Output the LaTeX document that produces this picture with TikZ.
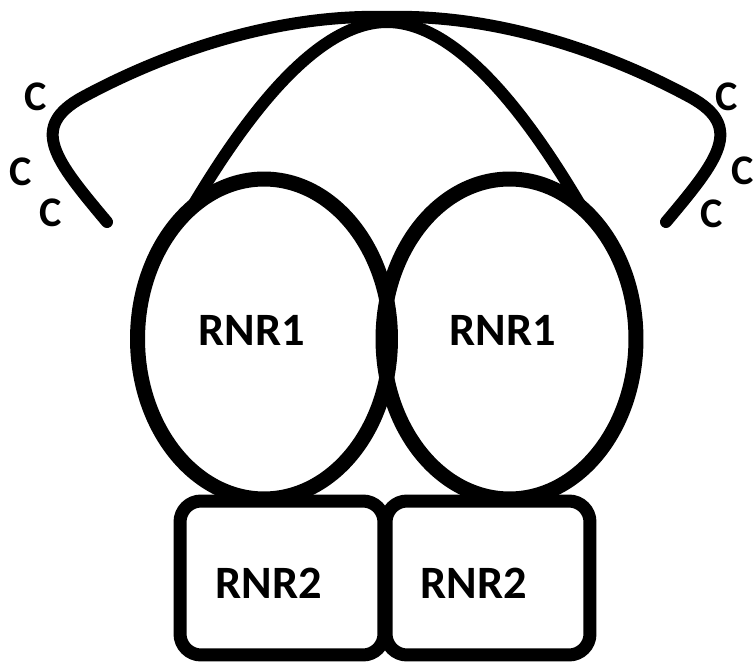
\documentclass[tikz,border=0pt]{standalone}
\usepackage{fontspec}
\setmainfont{Carlito}
\usetikzlibrary{positioning,shapes.geometric}

\begin{document}
\begin{tikzpicture}[x=0.02cm,y=-0.02cm,
  sub1/.style={ellipse,draw,line width=0.3cm,inner sep=0pt,outer sep=0pt,
    minimum width=5.06cm,minimum height=6.4cm},
  sub2/.style={rectangle,rounded corners=0.42cm,draw,line width=0.26cm,
    inner sep=0pt,outer sep=0pt,minimum width=4.08cm,minimum height=3.08cm},
  sublabel/.style={font=\fontsize{26.4}{30}\selectfont\bfseries,inner sep=0pt},
  cystxt/.style={font=\fontsize{24}{28}\selectfont\bfseries,inner sep=0pt},
  tail/.style={line width=0.24cm,line cap=round}]
\useasboundingbox (0,0) rectangle (754,662);

% two RNR2 boxes below
\node[sub2] (l2) at (282,578) {};
\node[sub2] (r2) at (488,578) {};
\node[sublabel] (l2t) at (269,583) {RNR2};
\node[sublabel] (r2t) at (473.5,583) {RNR2};

% two RNR1 subunits
\node[sub1] (l1) at (264,339) {};
\node[sub1] (r1) at (509.5,339) {};
\node[sublabel] (l1t) at (252,330) {RNR1};
\node[sublabel] (r1t) at (503,330) {RNR1};

% arch between the subunits
\coordinate (top) at (387,22);
\draw[tail] (l1.119) .. controls (235,135) and (310,22) .. (top)
  .. controls (464,22) and (539,135) .. (r1.61);

% long tails with the cysteines
\coordinate (lend) at (107,222);
\coordinate (lbend) at (83,97);
\coordinate (peak) at (387,17);
\coordinate (rbend) at (690,97);
\coordinate (rend) at (666,222);
\draw[tail] (lend) .. controls (55,160) and (28,127) .. (lbend)
  .. controls (170,50) and (280,14) .. (peak)
  .. controls (493,14) and (603,50) .. (rbend)
  .. controls (745,127) and (718,160) .. (rend);

\node[cystxt] (c1) at (36,97) {C};
\node[cystxt] (c2) at (21,172) {C};
\node[cystxt] (c3) at (51,213) {C};
\node[cystxt] (c4) at (727,97) {C};
\node[cystxt] (c5) at (743,171) {C};
\node[cystxt] (c6) at (712,214) {C};
\end{tikzpicture}
\end{document}
